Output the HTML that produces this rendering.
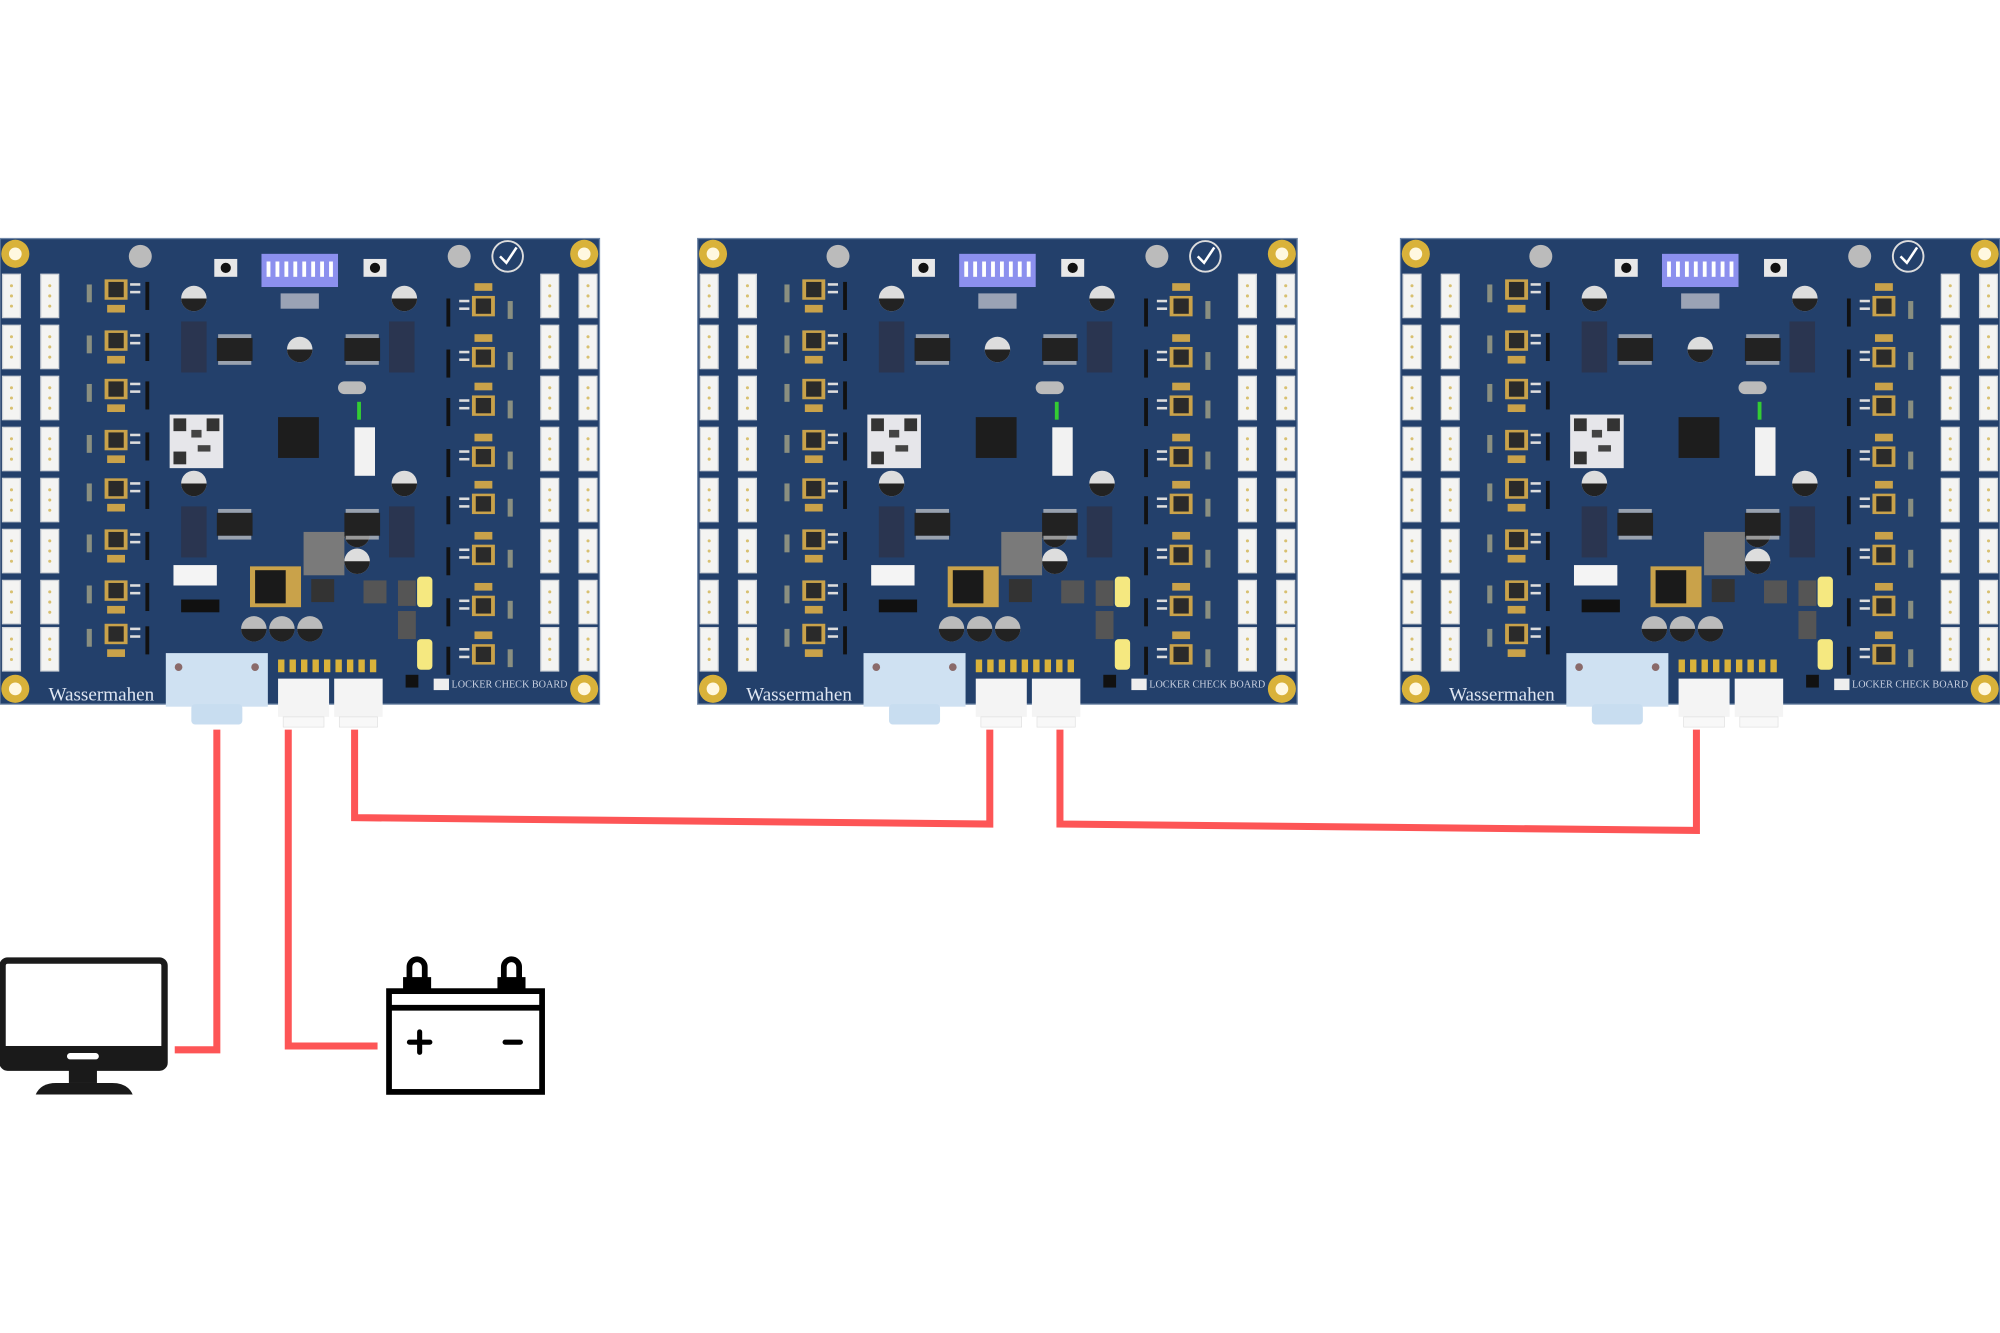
<!DOCTYPE html>
<html><head><meta charset="utf-8"><style>
html,body{margin:0;padding:0;background:#fff;}
svg{display:block;}
</style></head><body>
<svg width="2000" height="1333" viewBox="0 0 1568 1045" preserveAspectRatio="none" xmlns="http://www.w3.org/2000/svg">
<defs>
<g id="conn">
 <rect x="0" y="0" width="14" height="34" fill="#f4f4f2" stroke="#cfd3d8" stroke-width="1"/>
 <circle cx="7" cy="9" r="1.2" fill="#d8c070"/><circle cx="7" cy="17" r="1.2" fill="#d8c070"/><circle cx="7" cy="25" r="1.2" fill="#d8c070"/>
</g>
<g id="drv">
 <rect x="0" y="0" width="18" height="16" fill="#c9a24a"/>
 <rect x="3" y="2" width="12" height="12" fill="#2a2a2a"/>
 <rect x="20" y="3" width="8" height="2" fill="#ddd"/><rect x="20" y="9" width="8" height="2" fill="#ddd"/>
 <rect x="2" y="20" width="14" height="6" fill="#c9a24a"/>
 <rect x="-14" y="4" width="4" height="14" fill="#8a8f80"/>
 <rect x="32" y="2" width="3" height="22" fill="#111"/>
</g>
<g id="drvr">
 <rect x="0" y="0" width="18" height="16" fill="#c9a24a"/>
 <rect x="3" y="2" width="12" height="12" fill="#2a2a2a"/>
 <rect x="-10" y="3" width="8" height="2" fill="#ddd"/><rect x="-10" y="9" width="8" height="2" fill="#ddd"/>
 <rect x="2" y="-10" width="14" height="6" fill="#c9a24a"/>
 <rect x="28" y="4" width="4" height="14" fill="#8a8f80"/>
 <rect x="-20" y="2" width="3" height="22" fill="#111"/>
</g>
<g id="cap">
 <circle r="10" fill="#ddd"/><path d="M-10 0 A10 10 0 0 0 10 0 Z" fill="#222"/>
</g>
<g id="ic">
 <rect width="28" height="18" fill="#222"/>
 <rect x="1" y="-3" width="26" height="3" fill="#ccc" opacity=".7"/>
 <rect x="1" y="18" width="26" height="3" fill="#ccc" opacity=".7"/>
</g>
<g id="hole">
 <circle r="11" fill="#d9b23a"/><circle r="5" fill="#fff8e0"/>
</g>
<g id="board">
 <rect x="0" y="0" width="470" height="365" fill="#23406b"/>
 <rect x="0" y="0" width="470" height="365" fill="none" stroke="#6f86a6" stroke-width="1"/>
 <use href="#hole" x="12" y="12"/><use href="#hole" x="458" y="12"/>
 <use href="#hole" x="12" y="353"/><use href="#hole" x="458" y="353"/>
 <!-- edge connectors -->
 <use href="#conn" x="2" y="28"/><use href="#conn" x="2" y="68"/><use href="#conn" x="2" y="108"/><use href="#conn" x="2" y="148"/>
 <use href="#conn" x="2" y="188"/><use href="#conn" x="2" y="228"/><use href="#conn" x="2" y="268"/><use href="#conn" x="2" y="305"/>
 <use href="#conn" x="32" y="28"/><use href="#conn" x="32" y="68"/><use href="#conn" x="32" y="108"/><use href="#conn" x="32" y="148"/>
 <use href="#conn" x="32" y="188"/><use href="#conn" x="32" y="228"/><use href="#conn" x="32" y="268"/><use href="#conn" x="32" y="305"/>
 <use href="#conn" x="424" y="28"/><use href="#conn" x="424" y="68"/><use href="#conn" x="424" y="108"/><use href="#conn" x="424" y="148"/>
 <use href="#conn" x="424" y="188"/><use href="#conn" x="424" y="228"/><use href="#conn" x="424" y="268"/><use href="#conn" x="424" y="305"/>
 <use href="#conn" x="454" y="28"/><use href="#conn" x="454" y="68"/><use href="#conn" x="454" y="108"/><use href="#conn" x="454" y="148"/>
 <use href="#conn" x="454" y="188"/><use href="#conn" x="454" y="228"/><use href="#conn" x="454" y="268"/><use href="#conn" x="454" y="305"/>
 <!-- drivers -->
 <use href="#drv" x="82" y="32"/><use href="#drv" x="82" y="72"/><use href="#drv" x="82" y="110"/><use href="#drv" x="82" y="150"/>
 <use href="#drv" x="82" y="188"/><use href="#drv" x="82" y="228"/><use href="#drv" x="82" y="268"/><use href="#drv" x="82" y="302"/>
 <use href="#drvr" x="370" y="45"/><use href="#drvr" x="370" y="85"/><use href="#drvr" x="370" y="123"/><use href="#drvr" x="370" y="163"/>
 <use href="#drvr" x="370" y="200"/><use href="#drvr" x="370" y="240"/><use href="#drvr" x="370" y="280"/><use href="#drvr" x="370" y="318"/>
 <!-- top -->
 <rect x="205" y="12" width="60" height="26" fill="#8c90ee"/>
 <g fill="#fff"><rect x="209" y="18" width="3" height="12"/><rect x="216" y="18" width="3" height="12"/><rect x="223" y="18" width="3" height="12"/><rect x="230" y="18" width="3" height="12"/><rect x="237" y="18" width="3" height="12"/><rect x="244" y="18" width="3" height="12"/><rect x="251" y="18" width="3" height="12"/><rect x="258" y="18" width="3" height="12"/></g>
 <rect x="168" y="16" width="18" height="14" fill="#e8e8e8"/><circle cx="177" cy="23" r="4" fill="#111"/>
 <rect x="285" y="16" width="18" height="14" fill="#e8e8e8"/><circle cx="294" cy="23" r="4" fill="#111"/>
 <circle cx="110" cy="14" r="9" fill="#bbb"/><circle cx="360" cy="14" r="9" fill="#bbb"/>
 <circle cx="398" cy="14" r="12" fill="none" stroke="#ddd" stroke-width="1.5"/>
 <path d="M392 14 l5 5 l8 -12" fill="none" stroke="#fff" stroke-width="2"/>
 <use href="#cap" x="152" y="47"/><use href="#cap" x="317" y="47"/><use href="#cap" x="235" y="87"/>
 <use href="#cap" x="152" y="192"/><use href="#cap" x="317" y="192"/>
 <use href="#cap" x="280" y="232"/><use href="#cap" x="280" y="253"/>
 <rect x="220" y="43" width="30" height="12" fill="#9aa3b5"/>
 <use href="#ic" x="170" y="78"/><use href="#ic" x="270" y="78"/><use href="#ic" x="170" y="215"/><use href="#ic" x="270" y="215"/>
 <rect x="142" y="65" width="20" height="40" fill="#2a3550"/><rect x="305" y="65" width="20" height="40" fill="#2a3550"/>
 <rect x="142" y="210" width="20" height="40" fill="#2a3550"/><rect x="305" y="210" width="20" height="40" fill="#2a3550"/>
 <rect x="265" y="112" width="22" height="10" rx="5" fill="#bbb"/>
 <rect x="218" y="140" width="32" height="32" fill="#1d1d1d"/>
 <rect x="133" y="138" width="42" height="42" fill="#e6e6ea"/>
 <rect x="136" y="141" width="10" height="10" fill="#333"/><rect x="162" y="141" width="10" height="10" fill="#333"/><rect x="136" y="167" width="10" height="10" fill="#333"/>
 <rect x="150" y="150" width="8" height="6" fill="#444"/><rect x="155" y="162" width="10" height="5" fill="#444"/>
 <rect x="278" y="148" width="16" height="38" fill="#f2f2f2"/>
 <rect x="280" y="128" width="3" height="14" fill="#3c3"/>
 <rect x="238" y="230" width="32" height="34" fill="#7a7a7a"/>
 <rect x="136" y="256" width="34" height="16" fill="#f4f4f4"/>
 <rect x="142" y="283" width="30" height="10" fill="#111"/>
 <rect x="196" y="257" width="40" height="32" fill="#c9a24a"/><rect x="200" y="260" width="24" height="26" fill="#1a1a1a"/>
 <rect x="244" y="267" width="18" height="18" fill="#333"/>
 <rect x="285" y="268" width="18" height="18" fill="#555"/><rect x="312" y="268" width="14" height="20" fill="#555"/>
 <rect x="327" y="265" width="12" height="24" rx="3" fill="#f5e880"/>
 <rect x="327" y="314" width="12" height="24" rx="3" fill="#f5e880"/>
 <rect x="312" y="292" width="14" height="22" fill="#555"/>
 <circle cx="199" cy="306" r="10" fill="#bbb"/><circle cx="221" cy="306" r="10" fill="#bbb"/><circle cx="243" cy="306" r="10" fill="#bbb"/>
 <path d="M189 306 A10 10 0 0 0 209 306Z M211 306 A10 10 0 0 0 231 306Z M233 306 A10 10 0 0 0 253 306Z" fill="#222"/>
 <rect x="340" y="345" width="12" height="9" fill="#eee"/>
 <rect x="318" y="342" width="10" height="10" fill="#111"/>
 <text x="354" y="352" font-family="Liberation Serif, serif" font-size="8" fill="#c8d0e0">LOCKER CHECK BOARD</text>
 <text x="38" y="362" font-family="Liberation Serif, serif" font-size="15" fill="#dfe6f2">Wassermahen</text>
 <!-- bottom connectors -->
 <rect x="130" y="325" width="80" height="42" fill="#cfe1f2"/>
 <rect x="150" y="365" width="40" height="16" rx="3" fill="#c8ddf0"/>
 <circle cx="140" cy="336" r="3" fill="#8a6a6a"/><circle cx="200" cy="336" r="3" fill="#8a6a6a"/>
 <g fill="#d9b23a"><rect x="218" y="330" width="5" height="10"/><rect x="227" y="330" width="5" height="10"/><rect x="236" y="330" width="5" height="10"/><rect x="245" y="330" width="5" height="10"/><rect x="254" y="330" width="5" height="10"/><rect x="263" y="330" width="5" height="10"/><rect x="272" y="330" width="5" height="10"/><rect x="281" y="330" width="5" height="10"/><rect x="290" y="330" width="5" height="10"/></g>
 <rect x="218" y="345" width="40" height="30" fill="#f4f4f4"/>
 <rect x="262" y="345" width="38" height="30" fill="#f4f4f4"/>
 <rect x="222" y="375" width="32" height="8" fill="#f8f8f8" stroke="#ddd" stroke-width=".5"/>
 <rect x="266" y="375" width="30" height="8" fill="#f8f8f8" stroke="#ddd" stroke-width=".5"/>
</g>
</defs>
<rect width="1568" height="1045" fill="#fff"/>
<use href="#board" x="0" y="187"/>
<use href="#board" x="547" y="187"/>
<use href="#board" x="1098" y="187"/>
<!-- red wires -->
<g fill="none" stroke="#fd5556" stroke-width="5.5" stroke-linecap="butt" stroke-linejoin="miter">
 <polyline points="170,572 170,823 137,823"/>
 <polyline points="226,572 226,820 296,820"/>
 <polyline points="278,572 278,641 776,646 776,572"/>
 <polyline points="831,572 831,646 1330,651 1330,572"/>
</g>
<!-- monitor -->
<rect x="2" y="753" width="127" height="84" rx="4" fill="#fff" stroke="#1a1a1a" stroke-width="5"/>
<rect x="2" y="820" width="127" height="18" fill="#1a1a1a"/>
<rect x="52" y="825" width="26" height="6" rx="3" fill="#fff" stroke="#1a1a1a" stroke-width="1"/>
<rect x="54" y="837" width="22" height="12" fill="#1a1a1a"/>
<path d="M28 858 Q32 849 44 849 L88 849 Q100 849 104 858 Z" fill="#1a1a1a"/>
<!-- battery -->
<g stroke="#000" stroke-width="4.5" fill="#fff">
 <rect x="305" y="777" width="120" height="79"/>
 <line x1="305" y1="790" x2="425" y2="790"/>
 <rect x="316" y="766" width="22" height="11" fill="#000" stroke="none"/>
 <rect x="390" y="766" width="22" height="11" fill="#000" stroke="none"/>
 <path d="M321 768 V758 A6 6 0 0 1 333 758 V768" fill="none"/>
 <path d="M395 768 V758 A6 6 0 0 1 407 758 V768" fill="none"/>
</g>
<g stroke="#000" stroke-width="4" stroke-linecap="round">
 <line x1="321" y1="817" x2="337" y2="817"/><line x1="329" y1="809" x2="329" y2="825"/>
 <line x1="396" y1="817" x2="408" y2="817"/>
</g>
</svg>
</body></html>
